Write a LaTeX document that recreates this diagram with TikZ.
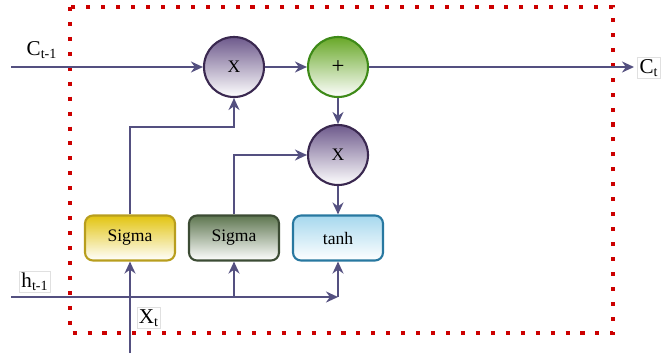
\documentclass[tikz,border=0pt]{standalone}
\usepackage{fontspec}
\setmainfont{Liberation Serif}
\usetikzlibrary{positioning,arrows.meta,calc}
\definecolor{wire}{HTML}{545080}
\definecolor{frm}{HTML}{CC0000}
\definecolor{mulc}{HTML}{6E5A8C}
\definecolor{mulb}{HTML}{3A2850}
\definecolor{addc}{HTML}{68A828}
\definecolor{addb}{HTML}{3E8A18}
\definecolor{sgac}{HTML}{E2C410}
\definecolor{sgab}{HTML}{B89E1E}
\definecolor{sgbc}{HTML}{5E7650}
\definecolor{sgbb}{HTML}{3C4C34}
\definecolor{thc}{HTML}{A6D8EE}
\definecolor{thb}{HTML}{2878A0}
\tikzset{
  op/.style={circle, draw, line width=1.2pt, minimum size=12mm, inner sep=0pt, bottom color=white, font=\fontsize{10}{12}\selectfont},
  gate/.style={draw, rounded corners=1.6mm, line width=1.2pt, minimum width=18mm, minimum height=9mm, bottom color=white},
  wr/.style={draw=wire, line width=1.2pt, -{Stealth[length=2.4mm,width=2.2mm]}},
  lbl/.style={draw=black!12, inner sep=1pt, font=\fontsize{12}{14}\selectfont}}

\begin{document}
\begin{tikzpicture}[x=0.2mm, y=-0.2mm, font=\fontsize{10}{12}\selectfont]
\useasboundingbox (0,0) rectangle (665,358);
\draw[frm, line width=2.3pt, dash pattern=on 2.3pt off 6.2pt] (70,7) rectangle (613,333);
% operators
\node[op, draw=mulb, top color=mulc] (m1) at (234,67) {X};
\node[op, draw=addb, top color=addc] (add) at (338,67) {\fontsize{13}{14}\selectfont +};
\node[op, draw=mulb, top color=mulc] (m2) at (338,155) {X};
% gates
\node[gate, draw=sgab, top color=sgac] (s1) at (130,238) {Sigma};
\node[gate, draw=sgbb, top color=sgbc] (s2) at (234,238) {Sigma};
\node[gate, draw=thb, top color=thc] (th) at (338,238) {tanh};
% ends and bends
\coordinate (cin) at (11,67);
\coordinate (cout) at (634,67);
\coordinate (hin) at (11,297);
\coordinate (hj) at (234,297);
\coordinate (hend) at (338,297);
\coordinate (xin) at (130,353);
\coordinate (k1) at (234,127);
% labels
\node[font=\fontsize{12}{14}\selectfont] (cl) at (42,50) {C\textsubscript{t-1}};
\node[lbl] (ctl) at (649,68) {C\textsubscript{t}};
\node[lbl] (hl) at (35,282) {h\textsubscript{t-1}};
\node[lbl] (xl) at (149,318) {X\textsubscript{t}};
% wires
\draw[wr] (cin) -- (m1);
\draw[wr] (m1) -- (add);
\draw[wr] (add) -- (cout);
\draw[wr] (add) -- (m2);
\draw[wr] (m2) -- (th);
\draw[wr] (s1.north) |- (k1) -- (m1.south);
\draw[wr] (s2.north) |- (m2.west);
\draw[wr] (hin) -- (hend);
\draw[wr] (hend) -- (th.south);
\draw[wr] (hj) -- (s2.south);
\draw[wr] (xin) -- (s1.south);
\end{tikzpicture}
\end{document}
